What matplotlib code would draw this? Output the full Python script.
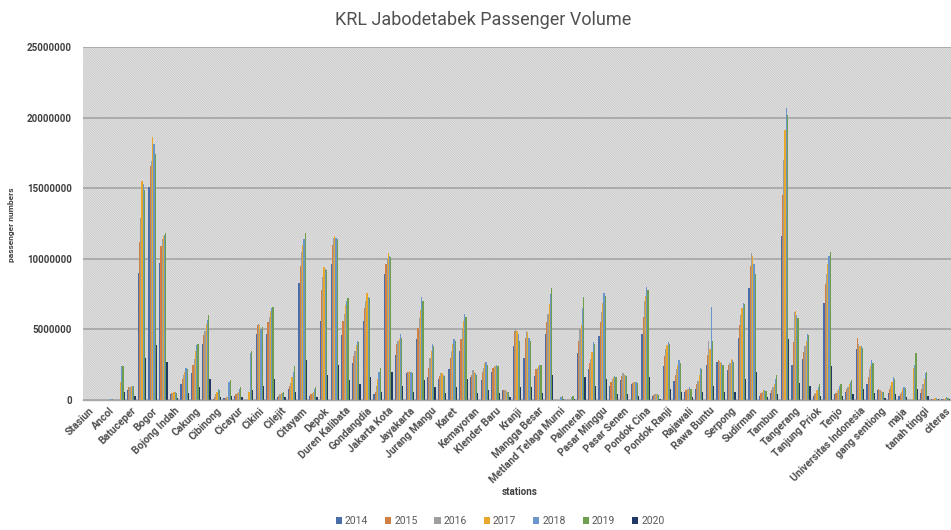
import numpy as np
import matplotlib
matplotlib.use("Agg")
import matplotlib.pyplot as plt
from matplotlib.patches import Rectangle, Patch

plt.rcParams['font.family'] = ['Roboto', 'DejaVu Sans']
plt.rcParams['hatch.linewidth'] = 0.5

stations = [
    "Stasiun", "(kosong)", "Ancol", "Angke", "Batuceper", "Bekasi", "Bogor", "Bojong Gede",
    "Bojong Indah", "Buaran", "Cakung", "Cawang", "Cibinong", "Cibitung", "Cicayur", "Cikarang",
    "Cikini", "Cilebut", "Cilejit", "Cisauk", "Citayam", "Daru", "Depok", "Depok Baru",
    "Duren Kalibata", "Duri", "Gondangdia", "Grogol", "Jakarta Kota", "Jatinegara", "Jayakarta", "Juanda",
    "Jurang Mangu", "Kalideres", "Karet", "Kebayoran", "Kemayoran", "Klender", "Klender Baru", "Kramat",
    "Kranji", "Lenteng Agung", "Mangga Besar", "Manggarai", "Metland Telaga Murni", "Nambo", "Palmerah", "Parung Panjang",
    "Pasar Minggu", "Pasar Minggu Baru", "Pasar Senen", "Pesing", "Pondok Cina", "Pondok Jati", "Pondok Ranji", "Poris",
    "Rajawali", "Rangkasbitung", "Rawa Buntu", "Sawah Besar", "Serpong", "Sudimara", "Sudirman", "Taman Kota",
    "Tambun", "Tanah Abang", "Tangerang", "Tanjung Barat", "Tanjung Priok", "Tebet", "Tenjo", "Tigaraksa",
    "Universitas Indonesia", "Universitas Pancasila", "gang sentiong", "kampung bandan", "maja", "pondok rajeg",
    "tanah tinggi", "kramat sentiong", "citeras",
]

years = ["2014", "2015", "2016", "2017", "2018", "2019", "2020"]

# passenger volumes in millions
v2014 = [0, 0, 0, 0, 0.7, 9.0, 15.1, 9.7, 0.4, 1.1,
         1.9, 4.0, 0.1, 0.15, 0.3, 0, 4.7, 4.7, 0.2, 0.75,
         8.3, 0.3, 5.6, 9.6, 4.6, 2.6, 5.6, 0.4, 8.9, 3.2,
         1.9, 4.3, 1.6, 1.5, 2.2, 3.5, 1.6, 1.4, 2.0, 0.7,
         3.8, 3.0, 1.7, 4.7, 0, 0, 3.3, 2.2, 4.5, 1.0,
         1.4, 1.1, 4.7, 0.3, 2.4, 1.35, 0.6, 0.8, 2.5, 2.7,
         2.1, 4.4, 7.9, 0.3, 0.5, 11.6, 2.5, 2.9, 0.3, 6.9,
         0.4, 0.6, 3.6, 1.1, 0.7, 0.5, 0.3, 0, 0.5, 0.05,
         0.05]
v2015 = [0, 0, 0, 0, 0.9, 11.2, 16.6, 10.9, 0.5, 1.5,
         2.5, 4.6, 0.2, 0.15, 0.4, 0, 5.3, 5.5, 0.3, 1.0,
         9.5, 0.4, 7.8, 11.0, 5.6, 3.1, 6.5, 0.6, 9.6, 4.0,
         2.0, 5.1, 2.3, 1.7, 3.0, 4.3, 1.8, 2.0, 2.3, 0.7,
         4.9, 4.4, 2.2, 5.5, 0, 0, 4.2, 2.6, 5.5, 1.3,
         1.7, 1.2, 5.9, 0.35, 3.1, 1.8, 0.7, 1.1, 3.2, 2.8,
         2.5, 5.3, 9.5, 0.5, 0.7, 14.5, 4.1, 3.4, 0.4, 8.2,
         0.5, 0.8, 4.4, 1.6, 0.75, 0.75, 0.4, 0, 0.8, 0.1,
         0.1]
v2016 = [0, 0, 0, 0, 0.95, 12.9, 16.9, 11.4, 0.5, 1.8,
         2.9, 4.9, 0.4, 0.2, 0.5, 0, 5.4, 5.9, 0.4, 1.2,
         10.5, 0.5, 8.7, 11.5, 6.1, 3.5, 7.0, 1.0, 10.0, 4.2,
         2.0, 5.8, 3.0, 1.9, 3.5, 5.1, 2.1, 2.3, 2.4, 0.7,
         5.0, 4.9, 2.3, 6.1, 0, 0, 5.0, 2.9, 6.2, 1.5,
         1.9, 1.3, 7.0, 0.4, 3.6, 2.2, 0.8, 1.35, 4.2, 2.75,
         2.65, 6.0, 10.4, 0.6, 0.9, 17.0, 6.2, 3.8, 0.5, 8.9,
         0.65, 0.9, 4.0, 2.2, 0.7, 1.0, 0.6, 0, 1.1, 0.1,
         0.1]
v2017 = [0, 0, 0, 1.3, 1.0, 15.5, 18.6, 11.6, 0.55, 2.0,
         3.5, 5.4, 0.6, 0.2, 0.6, 0.6, 5.3, 6.3, 0.5, 1.6,
         11.0, 0.6, 9.4, 11.6, 6.7, 3.9, 7.6, 1.5, 10.4, 4.3,
         2.05, 6.4, 3.5, 1.9, 4.0, 5.6, 2.0, 2.6, 2.4, 0.65,
         4.9, 4.8, 2.4, 6.8, 0, 0.1, 5.3, 3.4, 6.9, 1.6,
         1.8, 1.3, 7.4, 0.4, 3.9, 2.5, 0.8, 1.8, 3.6, 2.7,
         2.9, 6.5, 10.2, 0.7, 1.1, 19.1, 6.3, 4.2, 0.7, 9.6,
         0.8, 1.1, 3.8, 2.4, 0.65, 1.3, 0.8, 2.3, 1.5, 0.15,
         0.15]
v2018 = [0, 0, 0.05, 2.4, 1.0, 15.3, 18.1, 11.7, 0.55, 2.25,
         3.9, 5.7, 0.75, 1.3, 0.8, 3.3, 5.0, 6.5, 0.5, 2.0,
         11.4, 0.8, 9.3, 11.5, 7.0, 4.2, 7.3, 2.0, 10.2, 4.7,
         2.0, 7.3, 4.0, 1.8, 4.3, 6.1, 1.9, 2.7, 2.5, 0.6,
         4.7, 4.4, 2.5, 7.5, 0.2, 0.2, 6.5, 4.1, 7.6, 1.7,
         1.8, 1.3, 8.0, 0.4, 4.1, 2.8, 0.9, 2.3, 6.6, 2.6,
         2.8, 6.9, 9.6, 0.7, 1.5, 20.7, 6.0, 4.7, 0.9, 10.2,
         1.0, 1.3, 3.8, 2.8, 0.6, 1.6, 0.9, 2.5, 1.9, 0.15,
         0.2]
v2019 = [0, 0, 0.08, 2.4, 1.0, 14.9, 17.4, 11.8, 0.5, 2.2,
         4.0, 6.0, 0.7, 1.4, 0.9, 3.5, 5.2, 6.6, 0.6, 2.4,
         11.8, 0.9, 9.2, 11.4, 7.2, 4.1, 7.2, 2.3, 10.1, 4.4,
         1.9, 7.0, 3.8, 1.7, 4.2, 5.9, 1.8, 2.5, 2.4, 0.6,
         4.2, 4.2, 2.5, 7.9, 0.3, 0.3, 7.3, 4.0, 7.4, 1.6,
         1.7, 1.2, 7.8, 0.35, 4.0, 2.6, 0.8, 2.2, 4.2, 2.5,
         2.7, 6.8, 8.9, 0.65, 1.8, 20.2, 5.8, 4.6, 1.1, 10.5,
         1.1, 1.45, 3.7, 2.6, 0.55, 1.5, 0.85, 3.3, 1.95, 0.1,
         0.15]
v2020 = [0, 0, 0.03, 0.6, 0.3, 3.0, 3.9, 2.7, 0.15, 0.5,
         0.9, 1.5, 0.2, 0.3, 0.2, 0.7, 1.0, 1.5, 0.2, 0.6,
         2.8, 0.2, 1.8, 2.5, 1.4, 1.1, 1.6, 0.6, 2.0, 1.0,
         0.6, 1.4, 0.9, 0.5, 0.9, 1.5, 0.5, 0.7, 0.5, 0.2,
         0.9, 0.9, 0.5, 1.8, 0.1, 0.1, 1.6, 1.0, 1.5, 0.4,
         0.4, 0.3, 1.6, 0.1, 0.8, 0.6, 0.2, 0.6, 1.0, 0.6,
         0.6, 1.5, 2.0, 0.2, 0.4, 4.3, 1.2, 1.0, 0.3, 2.4,
         0.3, 0.4, 0.8, 0.5, 0.15, 0.4, 0.2, 0.8, 0.3, 0.05,
         0.05]

series = [v2014, v2015, v2016, v2017, v2018, v2019, v2020]
colors = ["#4a6fa8", "#d07f45", "#9e9e9e", "#e8a92a", "#6a96cc", "#6f9e4f", "#203864"]

yticks = [0, 5000000, 10000000, 15000000, 20000000, 25000000]

W, H = 951, 530
fig = plt.figure(figsize=(W / 100, H / 100), dpi=100)
fig.patch.set_facecolor("white")
ax = fig.add_axes([83 / W, 1 - 400 / H, (951 - 83) / W, 353 / H])

ax.set_facecolor("#e2e2e2")
ax.add_patch(Rectangle((0, 0), 1, 1, transform=ax.transAxes, facecolor="none",
                       edgecolor="#c6c6c6", hatch="\\" * 14, lw=0, zorder=0.1))

x = np.arange(len(stations))
n = len(series)
bw = 0.115
for k, (vals, c, yr) in enumerate(zip(series, colors, years)):
    ax.bar(x + (k - (n - 1) / 2) * bw, np.array(vals) * 1e6, width=bw, color=c,
           linewidth=0, zorder=2, label=yr)

ax.set_xlim(-0.5, len(stations) - 0.5)
ax.set_ylim(0, 25000000)
ax.set_yticks(yticks)
ax.set_yticklabels([str(v) for v in yticks], fontsize=7, fontweight="bold", color="#404040")
ax.yaxis.grid(True, color="#a8a8a8", lw=1.3, zorder=1)
ax.set_axisbelow(True)
for s in ["top", "right", "left"]:
    ax.spines[s].set_visible(False)
ax.spines["bottom"].set_color("#a8a8a8")
ax.spines["bottom"].set_linewidth(1.0)

ax.set_xticks(x[::2])
ax.set_xticklabels(stations[::2], rotation=45, ha="right", rotation_mode="anchor",
                   fontsize=7.5, fontweight="bold", color="#505050")
ax.tick_params(axis="x", length=0, pad=4)
ax.tick_params(axis="y", length=0, pad=8)

fig.text(483 / W, 1 - 20 / H, "KRL Jabodetabek Passenger Volume", ha="center", va="center",
         fontsize=13, color="#505050")
fig.text(12 / W, 1 - 225 / H, "passenger numbers", rotation=90, ha="center", va="center",
         fontsize=6, fontweight="bold", color="#404040")
fig.text(520 / W, 1 - 492 / H, "stations", ha="center", va="center",
         fontsize=7, fontweight="bold", color="#404040")

handles = [Patch(facecolor=c, label=y) for c, y in zip(colors, years)]
fig.legend(handles=handles, ncol=7, loc="center", bbox_to_anchor=(500 / W, 1 - 521 / H),
           frameon=False, fontsize=7.5, handlelength=0.6, handleheight=0.6,
           columnspacing=1.6, handletextpad=0.3, labelcolor="#595959")

fig.savefig("out.png", dpi=100, facecolor="white")
